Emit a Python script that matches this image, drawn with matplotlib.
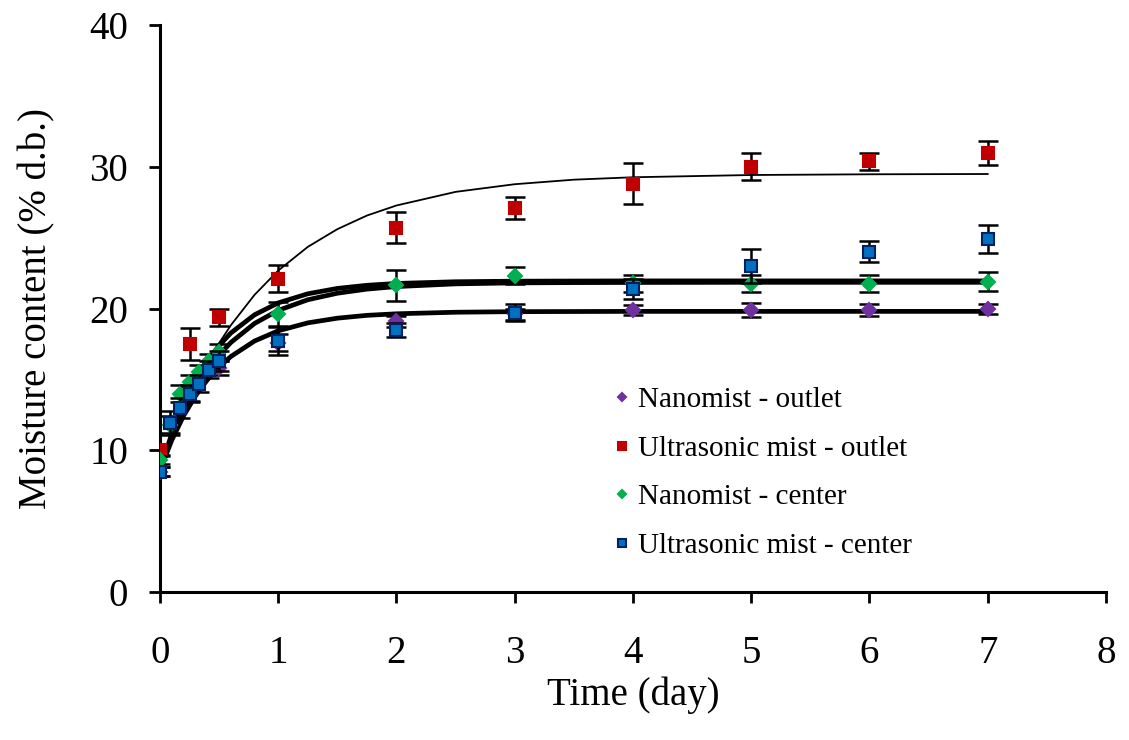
import matplotlib
matplotlib.use('Agg')
import matplotlib.pyplot as plt
from matplotlib.ticker import MultipleLocator

plt.rcParams['font.family'] = ['Liberation Serif', 'DejaVu Serif']

# measured points (day, % d.b.)
t_outlet = [0, 0.25, 0.5, 1, 2, 3, 4, 5, 6, 7]
t_center = [0, 1/12, 2/12, 0.25, 4/12, 5/12, 0.5, 1, 2, 3, 4, 5, 6, 7]

nano_out = [8.5, 14.0, 15.8, 17.6, 19.1, 19.6, 19.9, 19.9, 19.9, 20.0]
nano_out_err = [0.3, 0.5, 0.5, 0.6, 0.4, 0.4, 0.35, 0.5, 0.4, 0.35]

ultra_out = [10.0, 17.5, 19.4, 22.1, 25.7, 27.1, 28.8, 30.0, 30.4, 31.0]
ultra_out_err = [0.3, 1.1, 0.6, 0.95, 1.1, 0.75, 1.45, 0.95, 0.6, 0.85]

nano_cen = [9.3, 11.8, 14.0, 14.8, 15.5, 16.3, 16.9, 19.6, 21.65, 22.3, 21.8, 21.75, 21.75, 21.9]
nano_cen_err = [0.3, 0.6, 0.6, 0.5, 0.5, 0.5, 0.6, 0.85, 1.1, 0.6, 0.6, 0.6, 0.6, 0.65]

ultra_cen = [8.5, 11.9, 13.0, 14.0, 14.7, 15.7, 16.3, 17.7, 18.5, 19.7, 21.4, 23.0, 24.0, 24.9]
ultra_cen_err = [0.3, 0.85, 0.7, 0.6, 0.6, 0.6, 0.7, 1.0, 0.5, 0.6, 0.7, 1.2, 0.75, 1.0]

# fitted curves
t_fit = [0, 0.1, 0.2, 0.3, 0.4, 0.5, 0.6, 0.8, 1.0, 1.25, 1.5, 1.75, 2.0, 2.5, 3, 3.5, 4, 5, 6, 7]
fit_nano_out = [8.6, 10.72, 12.44, 13.84, 14.97, 15.88, 16.62, 17.71, 18.43, 18.99, 19.32,
                19.52, 19.63, 19.74, 19.78, 19.79, 19.8, 19.8, 19.8, 19.8]
fit_ultra_out = [8.6, 10.81, 12.79, 14.57, 16.15, 17.56, 18.83, 20.97, 22.68, 24.35, 25.6,
                 26.56, 27.27, 28.23, 28.77, 29.09, 29.26, 29.42, 29.47, 29.49]
fit_nano_cen = [8.6, 11.18, 13.27, 14.95, 16.3, 17.39, 18.28, 19.56, 20.4, 21.04, 21.42,
                21.64, 21.77, 21.89, 21.93, 21.94, 21.95, 21.95, 21.95, 21.95]
fit_ultra_cen = [8.6, 10.89, 12.79, 14.36, 15.65, 16.73, 17.61, 18.95, 19.87, 20.62, 21.08,
                 21.37, 21.55, 21.74, 21.81, 21.83, 21.84, 21.85, 21.85, 21.85]

fig = plt.figure(figsize=(11.29, 7.40), dpi=100)
ax = fig.add_axes([0.1417, 0.1999, 0.8379, 0.7663])

# curves
ax.plot(t_fit, fit_ultra_out, color='black', lw=1.3, zorder=2)
ax.plot(t_fit, fit_nano_out, color='black', lw=3.4, zorder=2)
ax.plot(t_fit, fit_nano_cen, color='black', lw=3.4, zorder=2)
ax.plot(t_fit, fit_ultra_cen, color='black', lw=3.4, zorder=2)

series = [
    (t_outlet, nano_out, nano_out_err, 'D', '#7030A0', '#7030A0', 7.5, 'Nanomist - outlet'),
    (t_outlet, ultra_out, ultra_out_err, 's', '#C00000', '#C00000', 8.5, 'Ultrasonic mist - outlet'),
    (t_center, nano_cen, nano_cen_err, 'D', '#00B050', '#00B050', 7.5, 'Nanomist - center'),
    (t_center, ultra_cen, ultra_cen_err, 's', '#0070C0', '#002060', 8.5, 'Ultrasonic mist - center'),
]

handles = []
for i, (tx, y, e, mk, fc, ec, ms, lab) in enumerate(series):
    ax.errorbar(tx, y, yerr=e, fmt='none', ecolor='black', elinewidth=1.8,
                capsize=7, capthick=1.8, zorder=3 + i)
    h, = ax.plot(tx, y, linestyle='none', marker=mk, markersize=ms,
                 markerfacecolor=fc, markeredgecolor=ec, markeredgewidth=1.5,
                 label=lab, zorder=3.5 + i)
    handles.append(h)

ax.set_xlim(0, 8)
ax.set_ylim(0, 40)
ax.xaxis.set_major_locator(MultipleLocator(1))
ax.yaxis.set_major_locator(MultipleLocator(10))
ax.spines['top'].set_visible(False)
ax.spines['right'].set_visible(False)
ax.spines['left'].set_linewidth(2.2)
ax.spines['bottom'].set_linewidth(2.2)
ax.tick_params(axis='both', direction='out', length=8, width=2, labelsize=28)
ax.tick_params(axis='x', pad=23)
ax.tick_params(axis='y', pad=15)

ax.set_xlabel('Time (day)', fontsize=28, labelpad=3)
ax.set_ylabel('Moisture content (% d.b.)', fontsize=28, labelpad=24)

ax.legend(handles=handles, loc='upper left', bbox_to_anchor=(0.479, 0.362), frameon=False,
          fontsize=21, markerscale=0.6, handlelength=0.6, handletextpad=0.25,
          labelspacing=0.76, borderpad=0, borderaxespad=0)

fig.savefig('out.png', dpi=100)
